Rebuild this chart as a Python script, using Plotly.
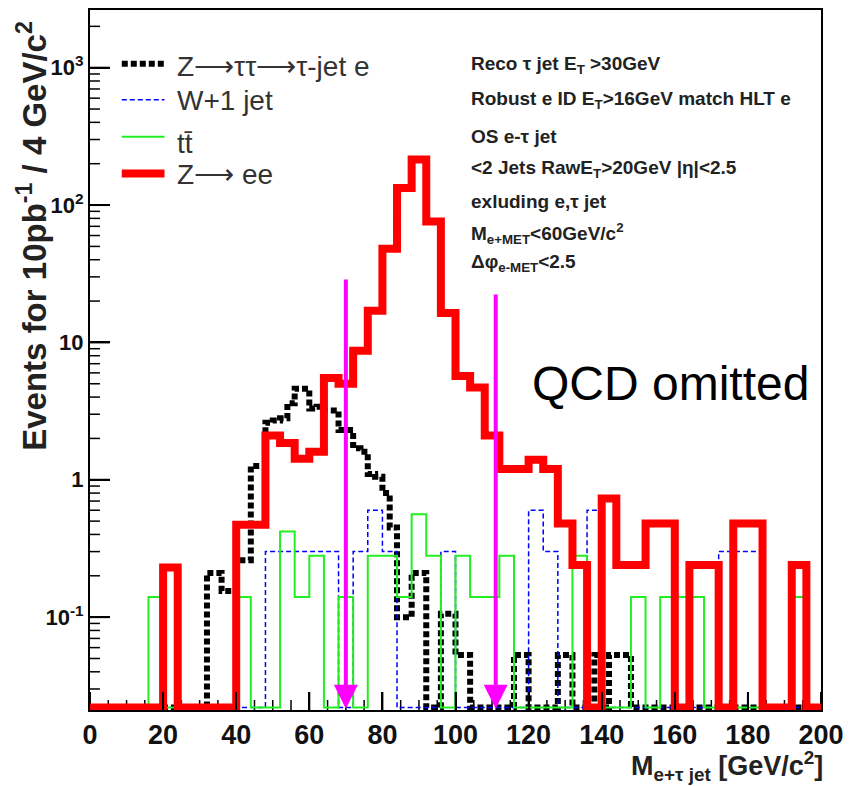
import numpy as np
import plotly.graph_objects as go

# ---------------- data ----------------
edges_4gev = list(range(0, 204, 4))   # 0..200, 50 bins
edges_2gev = list(range(0, 202, 2))   # 0..200, 100 bins

# Z -> tautau -> tau-jet e  (drawn with 2 GeV steps)
ztt_values = (
    [0] * 16 +                                   # 0-32
    [0.21, 0.21, 0.155, 0.155] +                 # 32-40
    [0.26, 0.26, 1.26, 1.26] +                   # 40-48
    [2.6, 2.7, 2.8, 3.6] +                       # 48-56
    [4.6, 4.6, 3.3, 3.4] +                       # 56-64
    [3.2, 3.2, 2.3, 2.3] +                       # 64-72
    [1.7, 1.6, 1.1, 1.05] +                      # 72-80
    [0.8, 0.45, 0.1, 0.1] +                      # 80-88
    [0.21, 0.21, 0, 0] +                         # 88-96
    [0.106, 0.106, 0.053, 0.053] +               # 96-104
    [0] * 6 +                                    # 104-116
    [0.053, 0.053, 0, 0, 0, 0] +                 # 116-128
    [0.053, 0.053, 0, 0, 0, 0.053] +             # 128-140
    [0, 0.053, 0.053, 0.053] +                   # 140-148
    [0] * 26                                     # 148-200
)

# W + 1 jet
wjet_values = (
    [0] * 12 + [0.3] * 5 + [0] + [0.3, 0.6, 0.3] + [0] * 3 + [0.3] +
    [0] * 5 + [0.6, 0.3] + [0] * 2 + [0.6] + [0] * 8 + [0.3] * 3 + [0] * 4
)

# t tbar
ttbar_values = (
    [0] * 4 + [0.14] + [0] * 5 + [0.14] + [0] * 2 +
    [0.42, 0.14, 0.28, 0, 0.14, 0, 0.28, 0.28, 0.14, 0.56, 0.28, 0, 0.28, 0.14, 0.14, 0.28] +
    [0] * 4 + [0.28] + [0] * 3 + [0.14, 0] + [0.14] * 3 + [0] * 6 + [0.14, 0]
)

# Z -> ee
zee_values = (
    [0] * 5 + [0.23] + [0] * 4 +
    [0.47, 0.47, 2.1, 1.85, 1.42, 1.6, 5.5, 5.0, 8.7, 17, 48, 133, 215, 76,
     16.4, 5.7, 4.7, 2.1, 1.2, 1.2, 1.4, 1.2, 0.48, 0.24, 0, 0.73, 0.24, 0.24,
     0.48, 0.48, 0, 0.24, 0.24, 0, 0.48, 0.48, 0, 0, 0.24, 0]
)

series_names = ["Z\u27f6\u03c4\u03c4\u27f6\u03c4-jet e", "W+1 jet", "tt\u0304", "Z\u27f6 ee"]

cut_positions = [70, 111]
cut_arrow_tops = [29.4, 22.9]

x_ticks = list(range(0, 201, 20))
x_minor_ticks = [v for v in range(0, 201, 5) if v % 20 != 0]
y_tickvals = [0.1, 1, 10, 100, 1000]
y_ticktext = ["10<sup>-1</sup>", "1", "10", "10<sup>2</sup>", "10<sup>3</sup>"]
y_minor_vals = [k * 10.0 ** d for d in range(-2, 4) for k in range(2, 10)]

cut_lines = [
    "Reco \u03c4 jet E<sub>T</sub> >30GeV",
    "Robust e ID E<sub>T</sub>>16GeV match HLT e",
    "OS e-\u03c4 jet",
    "&lt;2 Jets RawE<sub>T</sub>>20GeV |\u03b7|&lt;2.5",
    "exluding e,\u03c4 jet",
    "M<sub>e+MET</sub>&lt;60GeV/c<sup>2</sup>",
    "\u0394\u03c6<sub>e-MET</sub>&lt;2.5",
]

# ---------------- geometry / style ----------------
W, H = 852, 786
L, R, T, B = 90, 826, 8, 710          # plot-area pixel box
PX_PER_DECADE = 137.75
LOG_LO = -1.676
LOG_HI = 3.42
FLOOR = 10 ** (LOG_LO + 2.5 / PX_PER_DECADE)   # zero bins drawn on the frame bottom

def pxx(p):
    return (p - L) / (R - L)

def pxy(p):
    return (B - p) / (B - T)

FONT = "Liberation Sans, Arial, sans-serif"

styles = [
    dict(color="black", width=6, dash="6px,3px"),
    dict(color="#0000ff", width=1.5, dash="5px,3px"),
    dict(color="#22ee22", width=2, dash="solid"),
    dict(color="#ff0000", width=8, dash="solid"),
]


def step_xy(edges, values):
    ys = [v if v > 0 else FLOOR for v in values]
    return list(edges), ys + [ys[-1]]


fig = go.Figure()
datasets = [(edges_2gev, ztt_values), (edges_4gev, wjet_values),
            (edges_4gev, ttbar_values), (edges_4gev, zee_values)]
for (edges, vals), name, st in zip(datasets, series_names, styles):
    xs, ys = step_xy(edges, vals)
    fig.add_trace(go.Scatter(x=xs, y=ys, mode="lines", line_shape="hv", name=name,
                             line=st, showlegend=False, hoverinfo="skip"))

# tick marks drawn inside the frame (axis-referenced, built from the tick lists)
MAJ_X, MIN_X = 18 / (B - T), 10 / (B - T)
MAJ_Y, MIN_Y = 20 / (R - L), 10 / (R - L)
for v in x_ticks + x_minor_ticks:
    ln = MAJ_X if v in x_ticks else MIN_X
    fig.add_shape(type="line", xref="x", yref="paper", x0=v, x1=v, y0=0, y1=ln,
                  line=dict(color="black", width=2 if v in x_ticks else 1.5), layer="below")
for v in y_tickvals + y_minor_vals:
    if not (LOG_LO <= np.log10(v) <= LOG_HI):
        continue
    ln = MAJ_Y if v in y_tickvals else MIN_Y
    fig.add_shape(type="line", xref="paper", yref="y", x0=0, x1=ln,
                  y0=v, y1=v,
                  line=dict(color="black", width=2 if v in y_tickvals else 1.5), layer="below")

# cut arrows
for xc, top in zip(cut_positions, cut_arrow_tops):
    fig.add_annotation(x=xc, y=LOG_LO + 0.01, ax=xc, ay=np.log10(top),
                       xref="x", yref="y", axref="x", ayref="y", text="",
                       showarrow=True, arrowhead=2, arrowsize=1.2, arrowwidth=4,
                       arrowcolor="#ff00ff")

# manual legend
legend_rows = [62, 98, 135, 172]
legend_text_rows = [65, 99, 142, 173]
for name, st, ry, ty in zip(series_names, styles, legend_rows, legend_text_rows):
    fig.add_shape(type="line", xref="paper", yref="paper",
                  x0=pxx(122), x1=pxx(165), y0=pxy(ry), y1=pxy(ry),
                  line=dict(color=st["color"], width=st["width"], dash=st["dash"]))
    fig.add_annotation(x=pxx(176), y=pxy(ty), xref="paper", yref="paper",
                       text=name, showarrow=False, xanchor="left", yanchor="middle",
                       font=dict(family=FONT, size=28, color="#333"))

# cut list text
cut_rows = [63, 98, 135, 167, 200, 232, 262]
for txt, ry in zip(cut_lines, cut_rows):
    fig.add_annotation(x=pxx(472), y=pxy(ry), xref="paper", yref="paper",
                       text=txt, showarrow=False, xanchor="left", yanchor="middle",
                       font=dict(family=FONT, size=19, color="#222", weight="bold"))

fig.add_annotation(x=pxx(533), y=pxy(383), xref="paper", yref="paper",
                   text="QCD omitted", showarrow=False, xanchor="left", yanchor="middle",
                   font=dict(family=FONT, size=48, color="black"))

# axis titles
fig.add_annotation(x=pxx(830), y=pxy(787), xref="paper", yref="paper",
                   text="M<sub>e+\u03c4 jet</sub> [GeV/c<sup>2</sup>]", showarrow=False,
                   xanchor="right", yanchor="bottom",
                   font=dict(family=FONT, size=27, color="#222", weight="bold"))
fig.add_annotation(x=pxx(32), y=pxy(234), xref="paper", yref="paper",
                   text="Events for 10pb<sup>-1</sup> / 4 GeV/c<sup>2</sup>", showarrow=False,
                   textangle=-90, xanchor="center", yanchor="middle",
                   font=dict(family=FONT, size=33, color="#222", weight="bold"))

fig.update_layout(
    width=W, height=H,
    margin=dict(l=L, r=W - R, t=T, b=H - B, pad=0),
    paper_bgcolor="white", plot_bgcolor="white",
    showlegend=False,
    xaxis=dict(range=[0, 200], showline=True, mirror=True, linecolor="black", linewidth=2,
               showgrid=False, zeroline=False, ticks="inside", ticklen=18, tickwidth=2,
               tickcolor="black", tickmode="array", tickvals=x_ticks,
               tickfont=dict(family=FONT, size=27, color="#111", weight="bold")),
    yaxis=dict(type="log", range=[LOG_LO, LOG_HI], showline=True, mirror=True,
               linecolor="black", linewidth=2, showgrid=False, zeroline=False,
               ticks="inside", ticklen=20, tickwidth=2, tickcolor="black",
               tickmode="array", tickvals=y_tickvals, ticktext=y_ticktext,
               tickfont=dict(family=FONT, size=22, color="#111", weight="bold")),
)

fig.write_html("out.html")
